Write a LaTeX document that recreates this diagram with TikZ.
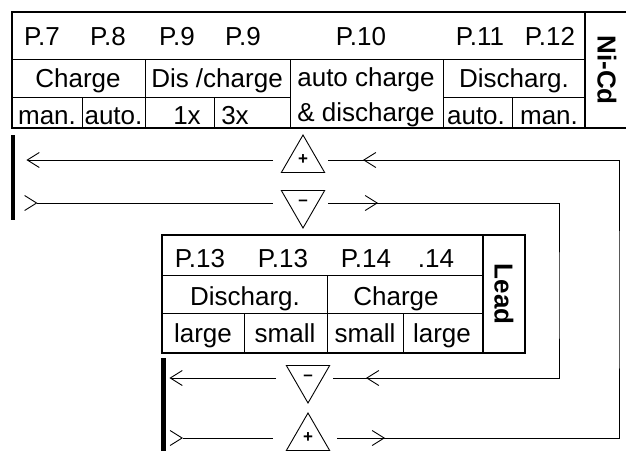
\documentclass[tikz,border=0pt]{standalone}
\usepackage{fontspec}
\setmainfont{Liberation Sans}
\usetikzlibrary{arrows.meta,shapes.geometric,decorations.markings}
\begin{document}
\begin{tikzpicture}[x=1pt, y=-1pt,
    frame/.style={line width=2.6pt},
    rule/.style={line width=0.9pt},
    cell/.style={anchor=base, inner sep=0pt, font=\fontsize{26}{26}\selectfont},
    tag/.style={rotate=-90, inner sep=0pt, font=\bfseries\fontsize{26}{26}\selectfont},
    tri/.style={regular polygon, regular polygon sides=3, draw, line width=0.9pt, minimum size=50pt, inner sep=0pt, font=\bfseries\fontsize{17}{17}\selectfont},
    flip/.style={shape border rotate=180},
    bar/.style={fill=black, inner sep=0pt, minimum width=4.5pt},
    wire/.style={line width=0.9pt},
    tip/.style={-{Straight Barb[length=12pt, width=15pt]}},
    flow/.style={postaction={decorate, decoration={markings, mark=at position #1 with {\arrow{Straight Barb[length=12pt, width=15pt]}}}}}
]
    \useasboundingbox (0,0) rectangle (626,450);

    % Ni-Cd table
    \draw[rule] (12,59) -- (585,59);
    \draw[rule] (12,97) -- (290,97) (443,97) -- (585,97);
    \foreach \x in {145,290,443} \draw[rule] (\x,59) -- (\x,128);
    \foreach \x in {82,214,512} \draw[rule] (\x,97) -- (\x,128);
    \draw[frame] (12,12) rectangle (585,128);
    \draw[frame] (585,12) rectangle (630,128);

    \foreach \x/\t [count=\i] in {42/P.7, 108/P.8, 177/P.9, 243/P.9, 361/P.10, 480/P.11, 550/P.12}
        \node[cell] (pn\i) at (\x,45) {\t};
    \node[cell] (chg) at (78,87) {Charge};
    \node[cell] (dischg) at (217,87) {Dis /charge};
    \node[cell] (autoc) at (366,86) {auto charge};
    \node[cell] (dsg) at (514,87) {Discharg.};
    \node[cell] (mana) at (47,124) {man.};
    \node[cell] (autoa) at (113.5,124) {auto.};
    \node[cell] (onex) at (187,124) {1x};
    \node[cell] (threex) at (235,124) {3x};
    \node[cell] (ampd) at (366,121) {\& discharge};
    \node[cell] (autob) at (476,124) {auto.};
    \node[cell] (manb) at (549,124) {man.};
    \node[tag] (nicd) at (607,70) {Ni-Cd};

    % Lead table
    \draw[rule] (162,275) -- (483,275) (162,313) -- (483,313);
    \draw[rule] (327,275) -- (327,353);
    \foreach \x in {244,403} \draw[rule] (\x,313) -- (\x,353);
    \draw[frame] (162,235) rectangle (483,353);
    \draw[frame] (483,235) rectangle (525,353);

    \foreach \x/\t [count=\i] in {200/P.13, 283/P.13, 366/P.14, 436/.14}
        \node[cell] (pl\i) at (\x,267) {\t};
    \node[cell] (ldis) at (245,305) {Discharg.};
    \node[cell] (lchg) at (396,305) {Charge};
    \node[cell] (lga) at (203,342) {large};
    \node[cell] (sma) at (285,342) {small};
    \node[cell] (smb) at (365,342) {small};
    \node[cell] (lgb) at (442,342) {large};
    \node[tag] (lead) at (504,294) {Lead};

    % Terminals
    \node[bar, minimum height=85pt] (barA) at (13,177.5) {};
    \node[bar, minimum height=102pt] (barB) at (163.5,409) {};
    \node[tri] (plusA) at (303,160) {+};
    \node[tri, flip] (minusA) at (303,203) {--};
    \node[tri, flip] (minusB) at (308,378) {--};
    \node[tri] (plusB) at (308,438) {+};
    \coordinate (outerR) at (619,300);
    \coordinate (innerR) at (559,300);

    % Wiring
    \draw[wire, tip, shorten <=30pt, shorten >=11pt] (plusA.center) -- (plusA.center -| barA.east);
    \draw[wire, flow=22pt, shorten <=22pt, shorten >=30pt] (minusA.center -| barA.east) -- (minusA.center);
    \draw[wire, tip, shorten <=32pt, shorten >=3.5pt] (minusB.center) -- (minusB.center -| barB.east);
    \draw[wire, flow=17pt, shorten <=17pt, shorten >=35pt] (plusB.center -| barB.east) -- (plusB.center);
    \draw[wire, flow=77pt, flow=-60pt, shorten <=29pt, shorten >=25pt] (plusB.center) -| (outerR) |- (plusA.center);
    \draw[wire, flow=75pt, flow=-58pt, shorten <=25pt, shorten >=25pt] (minusA.center) -| (innerR) |- (minusB.center);
\end{tikzpicture}
\end{document}
